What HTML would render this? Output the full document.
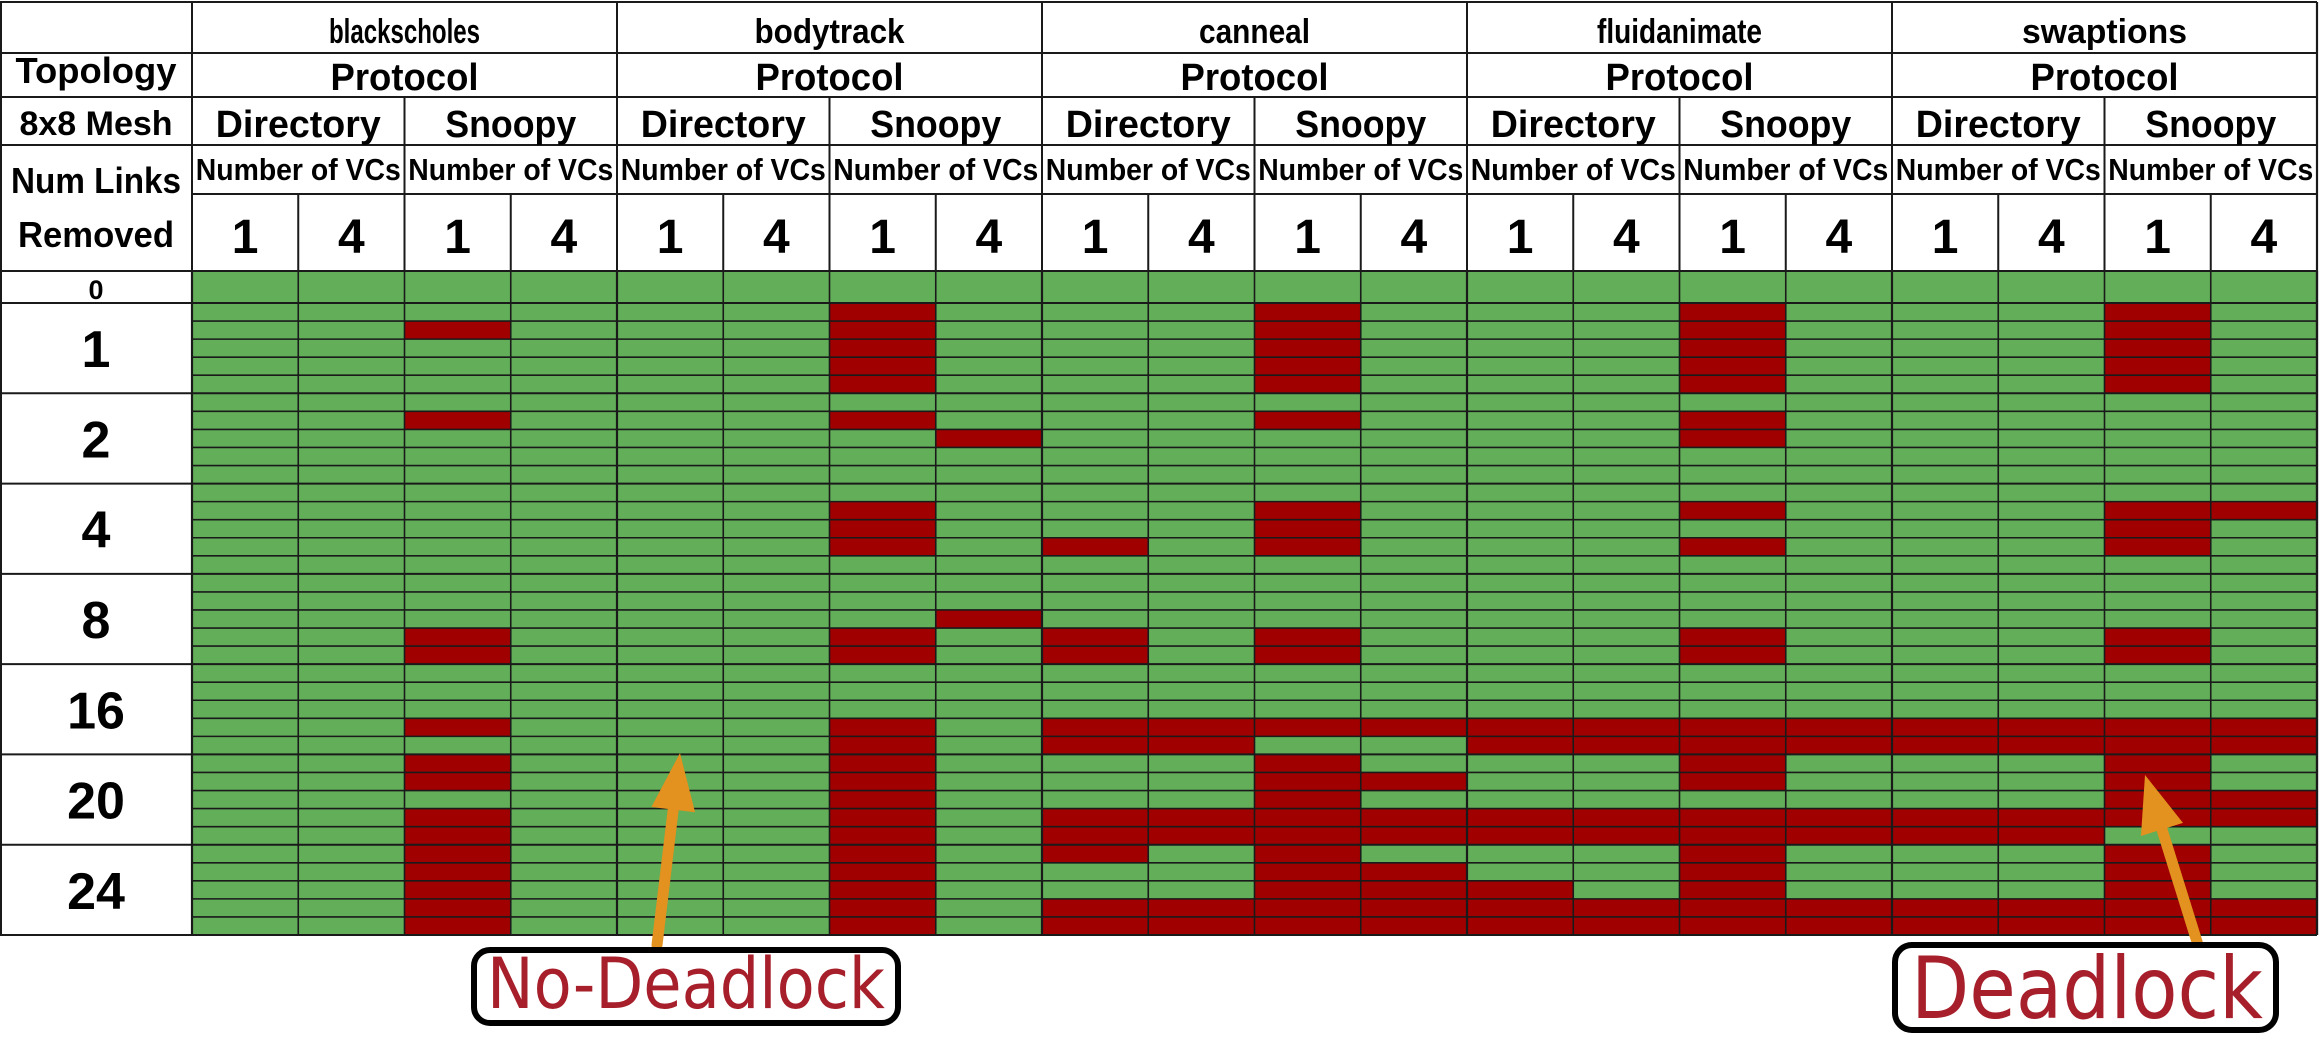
<!DOCTYPE html>
<html><head><meta charset="utf-8">
<style>
html,body{margin:0;padding:0;background:#fff;}
svg{display:block;}
text{font-family:"Liberation Sans",sans-serif;font-weight:bold;fill:#000;}
.ann{font-family:"Comic Sans MS","DejaVu Sans","Liberation Sans",sans-serif;font-weight:normal;fill:#a61f2a;}
</style></head>
<body>
<svg id="chart" width="2320" height="1045" viewBox="0 0 2320 1045" xmlns="http://www.w3.org/2000/svg"></svg>
<script>
// ---- data ----
const benchmarks = ["blackscholes","bodytrack","canneal","fluidanimate","swaptions"];
const protocols = ["Directory","Snoopy"];
const vcs = ["1","4"];
const groupLabels = ["1","2","4","8","16","20","24"];
const zeroLabel = "0";
// red (deadlock) rows per column, row index 0..35 (0 = 0 links removed, 1..35 = 7 groups of 5)
const blackscholesDir1 = [];
const blackscholesDir4 = [];
const blackscholesSnoop1 = [2,7,19,20,24,26,27,29,30,31,32,33,34,35];
const blackscholesSnoop4 = [];
const bodytrackDir1 = [];
const bodytrackDir4 = [];
const bodytrackSnoop1 = [1,2,3,4,5,7,12,13,14,19,20,24,25,26,27,28,29,30,31,32,33,34,35];
const bodytrackSnoop4 = [8,18];
const cannealDir1 = [14,19,20,24,25,29,30,31,34,35];
const cannealDir4 = [24,25,29,30,34,35];
const cannealSnoop1 = [1,2,3,4,5,7,12,13,14,19,20,24,26,27,28,29,30,31,32,33,34,35];
const cannealSnoop4 = [24,27,29,30,32,33,34,35];
const fluidDir1 = [24,25,29,30,33,34,35];
const fluidDir4 = [24,25,29,30,34,35];
const fluidSnoop1 = [1,2,3,4,5,7,8,12,14,19,20,24,25,26,27,29,30,31,32,33,34,35];
const fluidSnoop4 = [24,25,29,30,34,35];
const swapDir1 = [24,25,29,30,34,35];
const swapDir4 = [24,25,29,30,34,35];
const swapSnoop1 = [1,2,3,4,5,12,13,14,19,20,24,25,26,27,28,29,31,32,33,34,35];
const swapSnoop4 = [12,24,25,28,29,34,35];
const columnsData = [blackscholesDir1,blackscholesDir4,blackscholesSnoop1,blackscholesSnoop4,
  bodytrackDir1,bodytrackDir4,bodytrackSnoop1,bodytrackSnoop4,
  cannealDir1,cannealDir4,cannealSnoop1,cannealSnoop4,
  fluidDir1,fluidDir4,fluidSnoop1,fluidSnoop4,
  swapDir1,swapDir4,swapSnoop1,swapSnoop4];
const NROWS = 36;

// ---- layout ----
const NS="http://www.w3.org/2000/svg";
const svg=document.getElementById('chart');
const X0=192, X1=2317, COLW=(X1-X0)/20;
const Y0=271, ROW0H=32, RH=(935-303)/35;
const GREEN="#62ae59", RED="#a10000", LINE="#1a1a1a";
function colX(i){return X0+i*COLW;}
function rowY(r){return r===0?Y0:Y0+ROW0H+(r-1)*RH;}
function rowH(r){return r===0?ROW0H:RH;}
function mk(tag,attrs,parent){const e=document.createElementNS(NS,tag);for(const k in attrs)e.setAttribute(k,attrs[k]);(parent||svg).appendChild(e);return e;}
function txt(s,x,y,size,len,parent){const t=mk('text',{x:x,y:y,'font-size':size,'text-anchor':'middle'},parent);if(len){t.setAttribute('textLength',len);t.setAttribute('lengthAdjust','spacingAndGlyphs');}t.textContent=s;return t;}
function line(x1,y1,x2,y2,w,parent){return mk('line',{x1:x1,y1:y1,x2:x2,y2:y2,stroke:LINE,'stroke-width':w||2},parent);}

// cells
const cells=mk('g',{});


for(let c=0;c<20;c++){
  for(let r=0;r<NROWS;r++){
    const red=columnsData[c].indexOf(r)>=0;
    const rc=mk('rect',{x:colX(c),y:rowY(r),width:COLW,height:rowH(r),fill:red?RED:GREEN},cells);
    
    
  }
}
// data row lines
const grid=mk('g',{});


for(let r=1;r<=NROWS;r++){
  const y=rowY(r);
  const groupEdge=(r===1)||((r-1)%5===0);
  line(groupEdge?0:X0,y,X1,y,groupEdge?2:1.6,grid);
}
for(let c=0;c<=20;c++){ line(colX(c),Y0,colX(c),935,c%4===0?2.2:1.6,grid); }
// header lines
[2,53,97,145].forEach(y=>line(0,y,X1,y,2,grid));
line(X0,194,X1,194,2,grid);
line(0,271,X1,271,2,grid);
line(1,2,1,935,2,grid);
line(X1,2,X1,935,2.2,grid);
for(let b=0;b<=5;b++) line(colX(b*4),2,colX(b*4),271,2,grid);
for(let b=0;b<5;b++) line(colX(b*4+2),97,colX(b*4+2),271,2,grid);
for(let c=0;c<20;c++) if(c%2===1) line(colX(c),194,colX(c),271,2,grid);

// headers
const hdr=mk('g',{});


const bmLen=[151,150,111,165,165];
for(let b=0;b<5;b++){
  const cx=colX(b*4)+COLW*2;
  const t1=txt(benchmarks[b],cx,43,34,bmLen[b],hdr);
  
  
  const t2=txt("Protocol",cx,90,38,148,hdr);
  
  
  for(let p=0;p<2;p++){
    const px=colX(b*4+p*2)+COLW;
    const t3=txt(protocols[p],px,137,38,p===0?165:131,hdr);
    
    
    const t4=txt("Number of VCs",px,180,31,205,hdr);
    
    
    for(let v=0;v<2;v++){
      const t5=txt(vcs[v],colX(b*4+p*2+v)+COLW/2,253,48,null,hdr);
      
      
    }
  }
}
// left labels
const lft=mk('g',{});


const lx=96;
let t;
t=txt("Topology",lx,83,36,161,lft);


t=txt("8x8 Mesh",lx,135,34,153,lft);


t=txt("Num Links",lx,193,36,170,lft);


t=txt("Removed",lx,247,36,156,lft);


t=txt(zeroLabel,lx,299,27,null,lft);


for(let g=0;g<groupLabels.length;g++){
  const cy=rowY(1+g*5)+RH*2.5;
  const tg=txt(groupLabels[g],lx,cy+19,52,null,lft);
  
  
}

// annotations
function arrow(tx,ty,hx,hy,name){
  const g=mk('g',{});
  
  
  const dx=hx-tx,dy=hy-ty,L=Math.hypot(dx,dy),ux=dx/L,uy=dy/L,nx=-uy,ny=ux;
  const headL=57,headW=22;
  const bx=hx-ux*headL,by=hy-uy*headL;
  mk('line',{x1:tx,y1:ty,x2:bx+ux*4,y2:by+uy*4,stroke:'#e3911f','stroke-width':11,'stroke-linecap':'round'},g);
  mk('polygon',{points:`${hx},${hy} ${bx+nx*headW},${by+ny*headW} ${bx-nx*headW},${by-ny*headW}`,fill:'#e3911f'},g);
}
arrow(657,945,680,753,'no-deadlock-arrow');
arrow(2198,945,2145,775,'deadlock-arrow');

const b1=mk('g',{});


mk('rect',{x:474,y:950,width:424,height:73,rx:16,fill:'#fff',stroke:'#000','stroke-width':6},b1);
const at1=mk('text',{x:487,y:1008,'font-size':70,textLength:398,lengthAdjust:'spacingAndGlyphs','class':'ann'},b1);
at1.textContent="No-Deadlock";
const b2=mk('g',{});


mk('rect',{x:1895,y:945,width:381,height:85,rx:17,fill:'#fff',stroke:'#000','stroke-width':6},b2);
const at2=mk('text',{x:1911,y:1018,'font-size':86,textLength:352,lengthAdjust:'spacingAndGlyphs','class':'ann'},b2);
at2.textContent="Deadlock";
</script>
</body></html>
